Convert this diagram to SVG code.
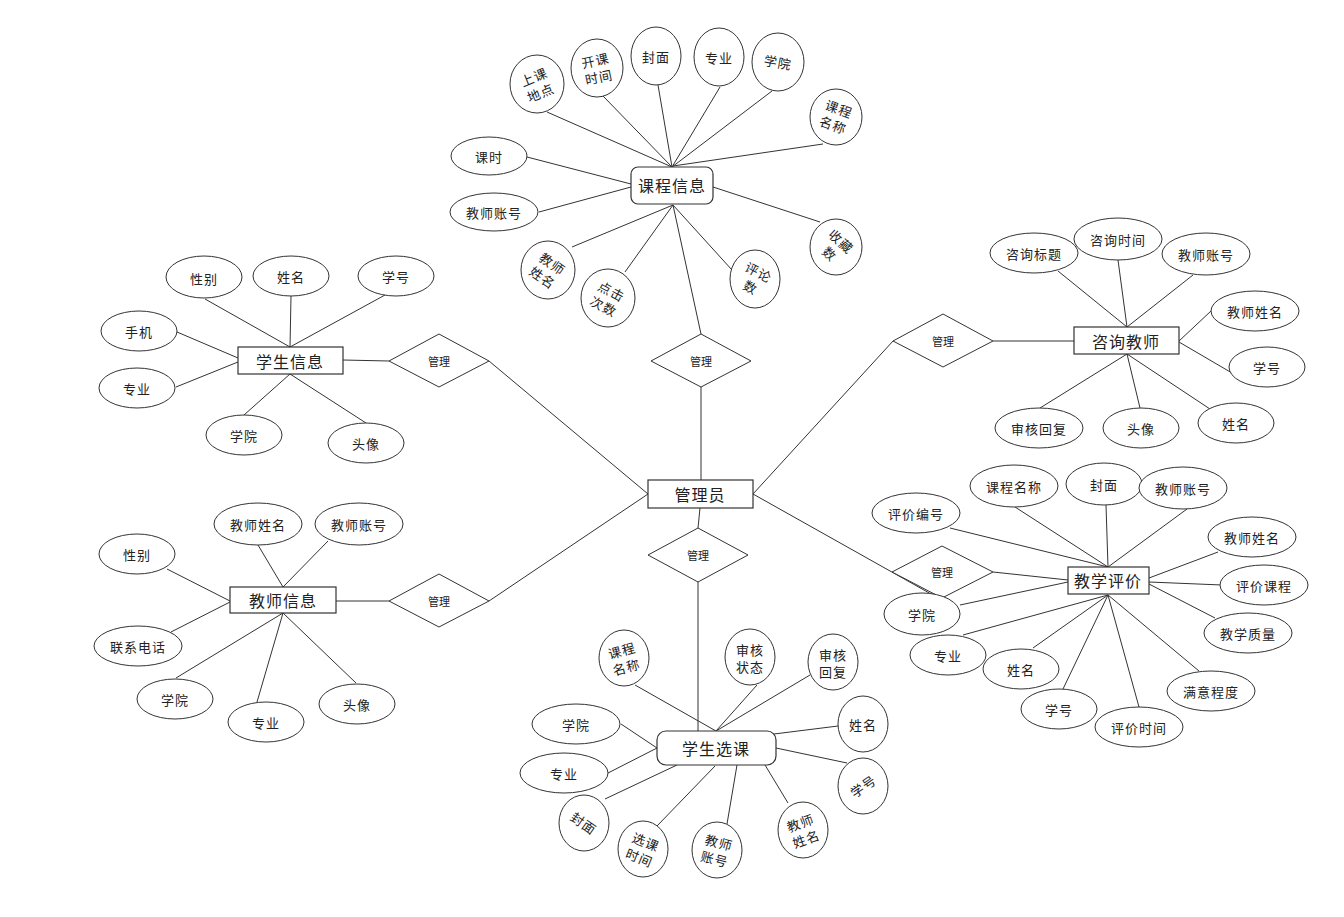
<svg xmlns="http://www.w3.org/2000/svg" width="1344" height="917" viewBox="0 0 1344 917">
<style>
.c line{stroke:#333;stroke-width:1}
.e{fill:#fff;stroke:#333;stroke-width:1}
.r{fill:#fff;stroke:#333;stroke-width:1.2}
.d{fill:#fff;stroke:#333;stroke-width:1}
text{font-family:"Microsoft YaHei","Noto Sans CJK SC",sans-serif;fill:#222;text-anchor:middle;dominant-baseline:central}
.t{font-size:13px;letter-spacing:1px}
.et{font-size:16px;letter-spacing:1px}
.dt{font-size:11px}
</style>
<rect width="1344" height="917" fill="#fff"/>
<g id="connectors" class="c">
<!-- 课程信息 -->
<line x1="672" y1="167" x2="547" y2="112"/>
<line x1="672" y1="167" x2="603" y2="96"/>
<line x1="672" y1="167" x2="658" y2="85"/>
<line x1="672" y1="167" x2="720" y2="87"/>
<line x1="672" y1="167" x2="772" y2="91"/>
<line x1="673" y1="166" x2="823" y2="144"/>
<line x1="631" y1="184" x2="527" y2="157"/>
<line x1="631" y1="187" x2="539" y2="212"/>
<line x1="673" y1="205" x2="572" y2="247"/>
<line x1="673" y1="205" x2="625" y2="272"/>
<line x1="673" y1="205" x2="732" y2="270"/>
<line x1="713" y1="187" x2="820" y2="222"/>
<line x1="673" y1="205" x2="701" y2="334"/>
<!-- 管理员 -->
<line x1="701" y1="387" x2="701" y2="480"/>
<line x1="700" y1="508" x2="698" y2="528"/>
<line x1="698" y1="582" x2="698" y2="732"/>
<line x1="489" y1="361" x2="648" y2="494"/>
<line x1="489" y1="601" x2="648" y2="494"/>
<line x1="753" y1="494" x2="893" y2="341"/>
<line x1="753" y1="494" x2="931" y2="594"/>
<!-- 学生信息 -->
<line x1="343" y1="360" x2="389" y2="361"/>
<line x1="290" y1="347" x2="205" y2="299"/>
<line x1="290" y1="347" x2="291" y2="296"/>
<line x1="290" y1="347" x2="385" y2="295"/>
<line x1="238" y1="358" x2="177" y2="332"/>
<line x1="238" y1="362" x2="176" y2="387"/>
<line x1="290" y1="374" x2="244" y2="415"/>
<line x1="290" y1="374" x2="366" y2="423"/>
<!-- 教师信息 -->
<line x1="336" y1="601" x2="389" y2="601"/>
<line x1="283" y1="587" x2="258" y2="545"/>
<line x1="283" y1="587" x2="328" y2="541"/>
<line x1="230" y1="601" x2="167" y2="569"/>
<line x1="230" y1="602" x2="171" y2="632"/>
<line x1="283" y1="613" x2="176" y2="678"/>
<line x1="283" y1="613" x2="257" y2="702"/>
<line x1="283" y1="613" x2="356" y2="683"/>
<!-- 咨询教师 -->
<line x1="993" y1="341" x2="1074" y2="341"/>
<line x1="1127" y1="327" x2="1058" y2="271"/>
<line x1="1127" y1="327" x2="1118" y2="260"/>
<line x1="1127" y1="327" x2="1193" y2="275"/>
<line x1="1179" y1="341" x2="1211" y2="311"/>
<line x1="1179" y1="342" x2="1232" y2="373"/>
<line x1="1127" y1="354" x2="1040" y2="408"/>
<line x1="1127" y1="354" x2="1140" y2="408"/>
<line x1="1127" y1="354" x2="1210" y2="409"/>
<!-- 教学评价 -->
<line x1="993" y1="572" x2="1068" y2="580"/>
<line x1="960" y1="605" x2="1068" y2="582"/>
<line x1="1108" y1="567" x2="950" y2="528"/>
<line x1="1108" y1="567" x2="1015" y2="507"/>
<line x1="1108" y1="567" x2="1106" y2="505"/>
<line x1="1108" y1="567" x2="1187" y2="509"/>
<line x1="1149" y1="578" x2="1218" y2="552"/>
<line x1="1149" y1="582" x2="1222" y2="585"/>
<line x1="1149" y1="584" x2="1215" y2="618"/>
<line x1="1108" y1="595" x2="1199" y2="671"/>
<line x1="1108" y1="595" x2="1139" y2="707"/>
<line x1="1108" y1="595" x2="1063" y2="689"/>
<line x1="1108" y1="595" x2="1033" y2="648"/>
<line x1="1108" y1="595" x2="963" y2="635"/>
<!-- 学生选课 -->
<line x1="716" y1="731" x2="635" y2="685"/>
<line x1="716" y1="731" x2="757" y2="685"/>
<line x1="716" y1="731" x2="810" y2="675"/>
<line x1="774" y1="734" x2="838" y2="726"/>
<line x1="776" y1="748" x2="847" y2="763"/>
<line x1="765" y1="765" x2="788" y2="803"/>
<line x1="737" y1="765" x2="727" y2="824"/>
<line x1="715" y1="766" x2="657" y2="826"/>
<line x1="677" y1="765" x2="605" y2="799"/>
<line x1="657" y1="748" x2="608" y2="773"/>
<line x1="657" y1="748" x2="621" y2="724"/>
</g>

<g id="n-guanliyuan"><rect class="r" x="648" y="480" width="105" height="28"/><text class="et" x="700" y="494">管理员</text></g>
<g id="d-top"><polygon class="d" points="651,361 701,334 751,361 701,387"/><text class="dt" x="701" y="361">管理</text></g>
<g id="d-bottom"><polygon class="d" points="648,555 698,528 748,555 698,582"/><text class="dt" x="698" y="555">管理</text></g>
<g id="d-student"><polygon class="d" points="389,361 439,334 489,361 439,387"/><text class="dt" x="439" y="361">管理</text></g>
<g id="d-teacher"><polygon class="d" points="389,601 439,574 489,601 439,627"/><text class="dt" x="439" y="601">管理</text></g>
<g id="d-consult"><polygon class="d" points="893,341 943,314 993,341 943,367"/><text class="dt" x="943" y="341">管理</text></g>
<g id="d-eval"><polygon class="d" points="892,572 942,546 993,572 942,598"/><text class="dt" x="942" y="572">管理</text></g>

<!-- 课程信息 -->
<g id="n-kechengxinxi"><rect class="r" x="631" y="167" width="82" height="37" rx="7"/><text class="et" x="672" y="185">课程信息</text></g>
<g id="a-k-shangke"><ellipse class="e" cx="537" cy="84" rx="27" ry="29"/><g transform="rotate(-22 537 84)"><text class="t" x="537" y="76">上课</text><text class="t" x="537" y="93">地点</text></g></g>
<g id="a-k-kaike"><ellipse class="e" cx="597" cy="68" rx="26" ry="29"/><g transform="rotate(-12 597 68)"><text class="t" x="597" y="60">开课</text><text class="t" x="597" y="77">时间</text></g></g>
<g id="a-k-fengmian"><ellipse class="e" cx="656" cy="56" rx="25" ry="29"/><text class="t" x="656" y="56">封面</text></g>
<g id="a-k-zhuanye"><ellipse class="e" cx="719" cy="57" rx="25" ry="29"/><text class="t" x="719" y="57">专业</text></g>
<g id="a-k-xueyuan"><ellipse class="e" cx="778" cy="62" rx="26" ry="29"/><text class="t" x="778" y="62" transform="rotate(10 778 62)">学院</text></g>
<g id="a-k-mingcheng"><ellipse class="e" cx="836" cy="117" rx="26" ry="28"/><g transform="rotate(20 836 117)"><text class="t" x="836" y="108">课程</text><text class="t" x="836" y="125">名称</text></g></g>
<g id="a-k-keshi"><ellipse class="e" cx="489" cy="156" rx="38" ry="19"/><text class="t" x="489" y="156">课时</text></g>
<g id="a-k-zhanghao"><ellipse class="e" cx="494" cy="212" rx="44" ry="19"/><text class="t" x="494" y="212">教师账号</text></g>
<g id="a-k-xingming"><ellipse class="e" cx="548" cy="270" rx="27" ry="29"/><g transform="rotate(35 548 270)"><text class="t" x="548" y="262">教师</text><text class="t" x="548" y="279">姓名</text></g></g>
<g id="a-k-dianji"><ellipse class="e" cx="608" cy="298" rx="27" ry="29"/><g transform="rotate(28 608 298)"><text class="t" x="608" y="290">点击</text><text class="t" x="608" y="307">次数</text></g></g>
<g id="a-k-pinglun"><ellipse class="e" cx="755" cy="279" rx="25" ry="29"/><g transform="rotate(28 755 279)"><text class="t" x="755" y="271">评论</text><text class="t" x="755" y="288">数</text></g></g>
<g id="a-k-shoucang"><ellipse class="e" cx="836" cy="247" rx="26" ry="28"/><g transform="rotate(42 836 247)"><text class="t" x="836" y="239">收藏</text><text class="t" x="836" y="256">数</text></g></g>

<!-- 学生信息 -->
<g id="n-xueshengxinxi"><rect class="r" x="238" y="347" width="105" height="27"/><text class="et" x="290" y="361">学生信息</text></g>
<g id="a-s-xingbie"><ellipse class="e" cx="204" cy="277" rx="38" ry="21"/><text class="t" x="204" y="278">性别</text></g>
<g id="a-s-xingming"><ellipse class="e" cx="291" cy="276" rx="38" ry="20"/><text class="t" x="291" y="276">姓名</text></g>
<g id="a-s-xuehao"><ellipse class="e" cx="396" cy="276" rx="38" ry="20"/><text class="t" x="396" y="276">学号</text></g>
<g id="a-s-shouji"><ellipse class="e" cx="139" cy="331" rx="38" ry="20"/><text class="t" x="139" y="331">手机</text></g>
<g id="a-s-zhuanye"><ellipse class="e" cx="137" cy="388" rx="38" ry="20"/><text class="t" x="137" y="388">专业</text></g>
<g id="a-s-xueyuan"><ellipse class="e" cx="244" cy="435" rx="38" ry="20"/><text class="t" x="244" y="435">学院</text></g>
<g id="a-s-touxiang"><ellipse class="e" cx="366" cy="443" rx="38" ry="20"/><text class="t" x="366" y="443">头像</text></g>

<!-- 教师信息 -->
<g id="n-jiaoshixinxi"><rect class="r" x="230" y="587" width="106" height="26"/><text class="et" x="283" y="600">教师信息</text></g>
<g id="a-t-xingming"><ellipse class="e" cx="258" cy="524" rx="44" ry="21"/><text class="t" x="258" y="524">教师姓名</text></g>
<g id="a-t-zhanghao"><ellipse class="e" cx="359" cy="524" rx="44" ry="21"/><text class="t" x="359" y="524">教师账号</text></g>
<g id="a-t-xingbie"><ellipse class="e" cx="137" cy="554" rx="38" ry="20"/><text class="t" x="137" y="554">性别</text></g>
<g id="a-t-dianhua"><ellipse class="e" cx="138" cy="646" rx="44" ry="20"/><text class="t" x="138" y="646">联系电话</text></g>
<g id="a-t-xueyuan"><ellipse class="e" cx="175" cy="699" rx="38" ry="20"/><text class="t" x="175" y="699">学院</text></g>
<g id="a-t-zhuanye"><ellipse class="e" cx="266" cy="722" rx="38" ry="20"/><text class="t" x="266" y="722">专业</text></g>
<g id="a-t-touxiang"><ellipse class="e" cx="357" cy="704" rx="38" ry="20"/><text class="t" x="357" y="704">头像</text></g>

<!-- 咨询教师 -->
<g id="n-zixunjiaoshi"><rect class="r" x="1074" y="327" width="105" height="27"/><text class="et" x="1126" y="341">咨询教师</text></g>
<g id="a-z-biaoti"><ellipse class="e" cx="1034" cy="253" rx="44" ry="20"/><text class="t" x="1034" y="253">咨询标题</text></g>
<g id="a-z-shijian"><ellipse class="e" cx="1118" cy="239" rx="44" ry="21"/><text class="t" x="1118" y="239">咨询时间</text></g>
<g id="a-z-zhanghao"><ellipse class="e" cx="1206" cy="254" rx="44" ry="21"/><text class="t" x="1206" y="254">教师账号</text></g>
<g id="a-z-jsxm"><ellipse class="e" cx="1255" cy="311" rx="44" ry="20"/><text class="t" x="1255" y="311">教师姓名</text></g>
<g id="a-z-xuehao"><ellipse class="e" cx="1267" cy="367" rx="38" ry="20"/><text class="t" x="1267" y="367">学号</text></g>
<g id="a-z-huifu"><ellipse class="e" cx="1039" cy="428" rx="44" ry="20"/><text class="t" x="1039" y="428">审核回复</text></g>
<g id="a-z-touxiang"><ellipse class="e" cx="1141" cy="428" rx="38" ry="20"/><text class="t" x="1141" y="428">头像</text></g>
<g id="a-z-xingming"><ellipse class="e" cx="1236" cy="423" rx="38" ry="20"/><text class="t" x="1236" y="423">姓名</text></g>

<!-- 教学评价 -->
<g id="n-jiaoxuepingjia"><rect class="r" x="1068" y="567" width="81" height="27"/><text class="et" x="1108" y="580">教学评价</text></g>
<g id="a-p-bianhao"><ellipse class="e" cx="916" cy="513" rx="44" ry="20"/><text class="t" x="916" y="513">评价编号</text></g>
<g id="a-p-mingcheng"><ellipse class="e" cx="1014" cy="486" rx="44" ry="21"/><text class="t" x="1014" y="486">课程名称</text></g>
<g id="a-p-fengmian"><ellipse class="e" cx="1104" cy="484" rx="38" ry="21"/><text class="t" x="1104" y="484">封面</text></g>
<g id="a-p-zhanghao"><ellipse class="e" cx="1183" cy="488" rx="44" ry="21"/><text class="t" x="1183" y="488">教师账号</text></g>
<g id="a-p-jsxm"><ellipse class="e" cx="1252" cy="537" rx="44" ry="20"/><text class="t" x="1252" y="537">教师姓名</text></g>
<g id="a-p-kecheng"><ellipse class="e" cx="1264" cy="585" rx="44" ry="20"/><text class="t" x="1264" y="585">评价课程</text></g>
<g id="a-p-zhiliang"><ellipse class="e" cx="1248" cy="633" rx="44" ry="20"/><text class="t" x="1248" y="633">教学质量</text></g>
<g id="a-p-manyi"><ellipse class="e" cx="1211" cy="691" rx="44" ry="20"/><text class="t" x="1211" y="691">满意程度</text></g>
<g id="a-p-shijian"><ellipse class="e" cx="1139" cy="727" rx="44" ry="20"/><text class="t" x="1139" y="727">评价时间</text></g>
<g id="a-p-xuehao"><ellipse class="e" cx="1059" cy="709" rx="38" ry="20"/><text class="t" x="1059" y="709">学号</text></g>
<g id="a-p-xingming"><ellipse class="e" cx="1021" cy="669" rx="38" ry="20"/><text class="t" x="1021" y="669">姓名</text></g>
<g id="a-p-zhuanye"><ellipse class="e" cx="948" cy="655" rx="38" ry="20"/><text class="t" x="948" y="655">专业</text></g>
<g id="a-p-xueyuan"><ellipse class="e" cx="922" cy="614" rx="38" ry="21"/><text class="t" x="922" y="614">学院</text></g>

<!-- 学生选课 -->
<g id="n-xueshengxuanke"><rect class="r" x="657" y="731" width="119" height="34" rx="9"/><text class="et" x="716" y="748">学生选课</text></g>
<g id="a-x-mingcheng"><ellipse class="e" cx="624" cy="658" rx="25" ry="28"/><g transform="rotate(-15 624 658)"><text class="t" x="624" y="650">课程</text><text class="t" x="624" y="667">名称</text></g></g>
<g id="a-x-zhuangtai"><ellipse class="e" cx="750" cy="657" rx="25" ry="28"/><text class="t" x="750" y="649">审核</text><text class="t" x="750" y="666">状态</text></g>
<g id="a-x-huifu"><ellipse class="e" cx="833" cy="662" rx="25" ry="28"/><text class="t" x="833" y="654">审核</text><text class="t" x="833" y="671">回复</text></g>
<g id="a-x-xingming"><ellipse class="e" cx="863" cy="724" rx="25" ry="28"/><text class="t" x="863" y="724">姓名</text></g>
<g id="a-x-xuehao"><ellipse class="e" cx="863" cy="786" rx="25" ry="28"/><text class="t" x="863" y="786" transform="rotate(-35 863 786)">学号</text></g>
<g id="a-x-jsxm"><ellipse class="e" cx="803" cy="830" rx="25" ry="28"/><g transform="rotate(-20 803 830)"><text class="t" x="803" y="822">教师</text><text class="t" x="803" y="839">姓名</text></g></g>
<g id="a-x-zhanghao"><ellipse class="e" cx="717" cy="850" rx="25" ry="28"/><g transform="rotate(15 717 850)"><text class="t" x="717" y="842">教师</text><text class="t" x="717" y="859">账号</text></g></g>
<g id="a-x-shijian"><ellipse class="e" cx="643" cy="849" rx="25" ry="28"/><g transform="rotate(22 643 849)"><text class="t" x="643" y="841">选课</text><text class="t" x="643" y="858">时间</text></g></g>
<g id="a-x-fengmian"><ellipse class="e" cx="584" cy="823" rx="25" ry="28"/><text class="t" x="584" y="823" transform="rotate(35 584 823)">封面</text></g>
<g id="a-x-zhuanye"><ellipse class="e" cx="564" cy="773" rx="44" ry="20"/><text class="t" x="564" y="773">专业</text></g>
<g id="a-x-xueyuan"><ellipse class="e" cx="576" cy="724" rx="44" ry="20"/><text class="t" x="576" y="724">学院</text></g>
</svg>
